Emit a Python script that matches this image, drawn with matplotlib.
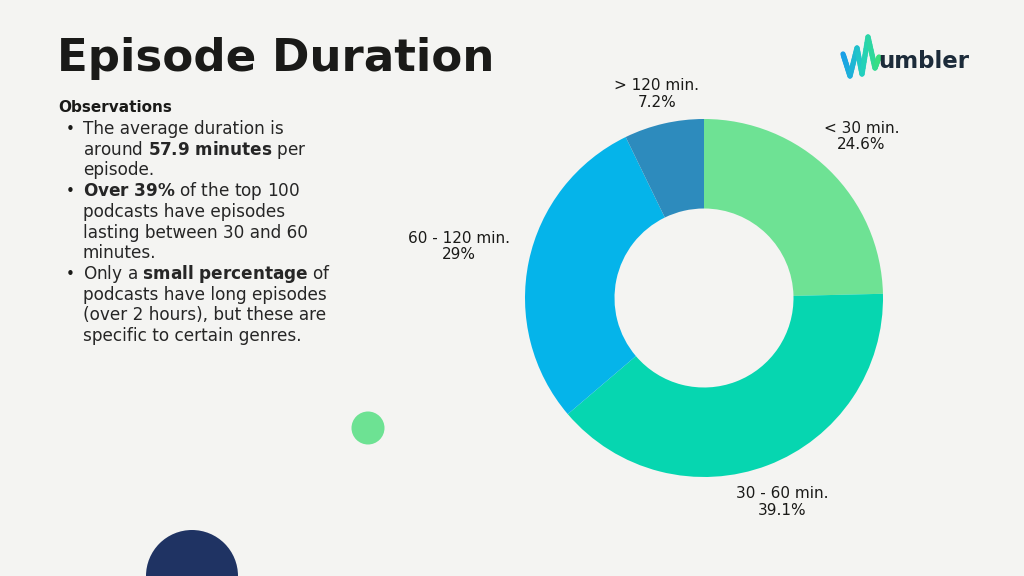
import numpy as np
import matplotlib
matplotlib.use("Agg")
from matplotlib import pyplot as plt
from matplotlib.patches import Circle
from matplotlib.collections import LineCollection

plt.rcParams["font.family"] = ["DejaVu Sans"]
plt.rcParams["mathtext.fontset"] = "dejavusans"

# data
categories = ["< 30 min.", "30 - 60 min.", "60 - 120 min.", "> 120 min."]
shares = [24.6, 39.1, 29, 7.2]
share_labels = ["24.6%", "39.1%", "29%", "7.2%"]
colors = ["#6EE294", "#06D6B0", "#05B4EA", "#2D8BBD"]
label_dist = [1.26, 1.22, 1.40, 1.17]

title = "Episode Duration"
notes_head = "Observations"
notes = [
    (True, r"The average duration is"),
    (False, r"around $\mathbf{57.9\ minutes}$ per"),
    (False, r"episode."),
    (True, r"$\mathbf{Over\ 39\%}$ of the top 100"),
    (False, r"podcasts have episodes"),
    (False, r"lasting between 30 and 60"),
    (False, r"minutes."),
    (True, r"Only a $\mathbf{small\ percentage}$ of"),
    (False, r"podcasts have long episodes"),
    (False, r"(over 2 hours), but these are"),
    (False, r"specific to certain genres."),
]

BG = "#F4F4F2"
INK = "#1A1A18"
W, H = 1024, 576


def fx(x):
    return x / W


def fy(y):
    return 1 - y / H


def main():
    fig = plt.figure(figsize=(10.24, 5.76), dpi=100, facecolor=BG)

    # title + notes
    fig.text(fx(57), fy(71), title, fontsize=32.5, fontweight="bold",
             color=INK, va="baseline")
    fig.text(fx(58), fy(112), notes_head, fontsize=11, fontweight="bold",
             color=INK, va="baseline")
    y = 134
    for bullet, line in notes:
        if bullet:
            fig.text(fx(66), fy(y), "\u2022", fontsize=11, color=INK, va="baseline")
        fig.text(fx(83), fy(y), line, fontsize=12.2, color="#262626", va="baseline")
        y += 20.7

    # decorative circles
    fig.add_artist(Circle((368, H - 428), 16.5, transform=None,
                          color="#6DE293", lw=0))
    fig.add_artist(Circle((192, H - 576), 46, transform=None,
                          color="#1F3363", lw=0))

    # logo
    wave = np.array([[843, 54], [850, 76], [857, 48], [862, 74],
                     [868, 37], [875, 68], [879, 57]], dtype=float)
    pts = []
    for a, b in zip(wave[:-1], wave[1:]):
        for t in np.linspace(0, 1, 12, endpoint=False):
            pts.append(a + (b - a) * t)
    pts.append(wave[-1])
    pts = np.array(pts)
    pts[:, 0] = pts[:, 0] / W
    pts[:, 1] = 1 - pts[:, 1] / H
    segs = np.stack([pts[:-1], pts[1:]], axis=1)
    cmap = matplotlib.colors.LinearSegmentedColormap.from_list(
        "logo", ["#1A9FE8", "#22CFC0", "#3BE07E"])
    lc = LineCollection(segs, cmap=cmap, linewidths=3.8,
                        transform=fig.transFigure, capstyle="round",
                        joinstyle="round")
    lc.set_array(np.linspace(0, 1, len(segs)))
    fig.add_artist(lc)
    fig.text(fx(878), fy(68), "umbler", fontsize=16.5, fontweight="bold",
             color="#1C2B3A", va="baseline")

    # donut
    cx, cy, r = 704, 298, 179
    half = 250
    ax = fig.add_axes([fx(cx - half), fy(cy + half), 2 * half / W, 2 * half / H])
    ax.set_facecolor("none")
    wedges, _ = ax.pie(shares, colors=colors, startangle=90, counterclock=False,
                       wedgeprops=dict(width=0.5, edgecolor="none"))
    lim = half / r
    ax.set_xlim(-lim, lim)
    ax.set_ylim(-lim, lim)
    ax.set_aspect("equal")
    ax.axis("off")

    for w, cat, lab, d in zip(wedges, categories, share_labels, label_dist):
        ang = np.deg2rad((w.theta1 + w.theta2) / 2)
        ax.text(d * np.cos(ang), d * np.sin(ang), cat + "\n" + lab,
                ha="center", va="center", fontsize=11, color=INK,
                linespacing=1.1)

    fig.savefig("out.png", dpi=100, facecolor=BG)


if __name__ == "__main__":
    main()
